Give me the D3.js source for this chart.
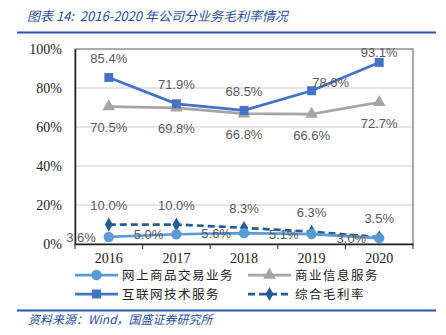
<!DOCTYPE html>
<html lang="zh">
<head>
<meta charset="UTF-8">
<title>2016-2020年公司分业务毛利率情况</title>
<script src="https://d3js.org/d3.v7.min.js"></script>
<style>
  body { margin: 0; background: #fff; }
  svg { display: block; }
</style>
</head>
<body>
<div id="chart"></div>
<script>

// data
const years = ["2016", "2017", "2018", "2019", "2020"];
const seriesNames = ["网上商品交易业务", "商业信息服务", "互联网技术服务", "综合毛利率"];
const onlineTrade = [3.6, 5.0, 5.6, 5.1, 3.0];
const bizInfo = [70.5, 69.8, 66.8, 66.6, 72.7];
const internetTech = [85.4, 71.9, 68.5, 78.6, 93.1];
const overall = [10.0, 10.0, 8.3, 6.3, 3.5];
const yTicks = [0, 20, 40, 60, 80, 100];

const width = 446, height = 335;
const svg = d3.select("#chart").append("svg")
  .attr("width", width).attr("height", height);

const blue = "#1F4E9A";

// header / footer
svg.append("text")
  .attr("x", 27).attr("y", 21)
  .attr("fill", blue)
  .style("white-space", "pre")
  .style("font", "italic 13px 'Noto Sans CJK SC', sans-serif")
  .text("图表 14:  2016-2020 年公司分业务毛利率情况");
svg.append("line").attr("x1", 17).attr("x2", 436).attr("y1", 32.5).attr("y2", 32.5)
  .attr("stroke", "#2357B0").attr("stroke-width", 2);
svg.append("line").attr("x1", 17).attr("x2", 436).attr("y1", 310.5).attr("y2", 310.5)
  .attr("stroke", "#2357B0").attr("stroke-width", 2);
svg.append("text")
  .attr("x", 28).attr("y", 324)
  .attr("fill", blue)
  .style("font", "italic 12px 'Noto Sans CJK SC', sans-serif")
  .text("资料来源：Wind，国盛证券研究所");

// plot area
const plotL = 75, plotR = 413, plotT = 49, plotB = 244;
const x = d3.scaleBand().domain(years).range([plotL, plotR]);
const y = d3.scaleLinear().domain([0, 100]).range([plotB, plotT]);
const cx = d => x(d) + x.bandwidth() / 2;

// gridlines
svg.append("g").selectAll("line")
  .data(yTicks.filter(t => t > 0 && t < 100))
  .enter().append("line")
  .attr("x1", plotL).attr("x2", plotR)
  .attr("y1", d => y(d)).attr("y2", d => y(d))
  .attr("stroke", "#DDDDDD").attr("stroke-width", 1.5);

// frame
svg.append("rect")
  .attr("x", plotL).attr("y", plotT)
  .attr("width", plotR - plotL).attr("height", plotB - plotT)
  .attr("fill", "none").attr("stroke", "#595959").attr("stroke-width", 1);

// y axis
const yAxis = svg.append("g")
  .attr("transform", `translate(${plotL},0)`)
  .call(d3.axisLeft(y).tickValues(yTicks).tickFormat(d => d + "%").tickSize(0).tickPadding(13));
yAxis.select(".domain").attr("stroke", "#222").attr("stroke-width", 1.5);
yAxis.selectAll("text")
  .attr("fill", "#222")
  .style("font", "14px 'Liberation Serif', serif");

// x axis
const xAxis = svg.append("g")
  .attr("transform", `translate(0,${plotB})`)
  .call(d3.axisBottom(x).tickSize(0).tickPadding(9));
xAxis.select(".domain").attr("stroke", "#222").attr("stroke-width", 1.5);
xAxis.selectAll("text")
  .attr("fill", "#222")
  .style("font", "14px 'Liberation Serif', serif");
// tick marks on category boundaries
svg.append("g").selectAll("line")
  .data(d3.range(years.length + 1))
  .enter().append("line")
  .attr("x1", i => plotL + i * x.bandwidth()).attr("x2", i => plotL + i * x.bandwidth())
  .attr("y1", plotB).attr("y2", plotB + 5)
  .attr("stroke", "#222").attr("stroke-width", 1);

// series config
const series = [
  { name: seriesNames[1], values: bizInfo, color: "#A5A5A5", marker: d3.symbolTriangle, size: 70, dash: null, label: "below" },
  { name: seriesNames[2], values: internetTech, color: "#4472C4", marker: d3.symbolSquare, size: 80, dash: null, label: "above" },
  { name: seriesNames[3], values: overall, color: "#255E91", marker: d3.symbolDiamond, size: 55, dash: "7,4", label: "above" },
  { name: seriesNames[0], values: onlineTrade, color: "#5B9BD5", marker: d3.symbolCircle, size: 85, dash: null, label: "left" }
];

const line = d3.line().x(d => cx(d.year)).y(d => y(d.v));

series.forEach(s => {
  const pts = years.map((yr, i) => ({ year: yr, v: s.values[i] }));
  const g = svg.append("g");
  g.append("path")
    .datum(pts)
    .attr("d", line)
    .attr("fill", "none")
    .attr("stroke", s.color)
    .attr("stroke-width", 2.75)
    .attr("stroke-dasharray", s.dash);
  g.selectAll("path.m")
    .data(pts).enter().append("path")
    .attr("class", "m")
    .attr("transform", d => `translate(${cx(d.year)},${y(d.v)})`)
    .attr("d", d3.symbol().type(s.marker).size(s.size))
    .attr("fill", s.color);
});

// data labels
const labelStyle = "13px 'Liberation Sans', Arial, sans-serif";
const tweak = { "互联网技术服务-2019": [19, 11], "互联网技术服务-2020": [0, 9] };
series.forEach(s => {
  s.values.forEach((v, i) => {
    const px = cx(years[i]), py = y(v);
    let tx = px, ty = py, anchor = "middle";
    if (s.label === "above") ty = py - 19;
    else if (s.label === "below") ty = py + 21;
    else { tx = px - 13; anchor = "end"; }
    const t = tweak[s.name + "-" + years[i]];
    if (t) { tx += t[0]; ty += t[1]; }
    svg.append("text")
      .attr("x", tx).attr("y", ty)
      .attr("dy", "0.35em")
      .attr("text-anchor", anchor)
      .attr("fill", "#595959")
      .style("font", labelStyle)
      .text(v.toFixed(1) + "%");
  });
});

// legend
const legendItems = [
  { s: series[3], lx: 75, ly: 275 },
  { s: series[0], lx: 248, ly: 275 },
  { s: series[1], lx: 75, ly: 294 },
  { s: series[2], lx: 248, ly: 294 }
];
const legend = svg.append("g");
legendItems.forEach(it => {
  legend.append("line")
    .attr("x1", it.lx).attr("x2", it.lx + 43)
    .attr("y1", it.ly).attr("y2", it.ly)
    .attr("stroke", it.s.color).attr("stroke-width", 2.75)
    .attr("stroke-dasharray", it.s.dash);
  legend.append("path")
    .attr("transform", `translate(${it.lx + 21.5},${it.ly})`)
    .attr("d", d3.symbol().type(it.s.marker).size(it.s.size))
    .attr("fill", it.s.color);
  legend.append("text")
    .attr("x", it.lx + 47).attr("y", it.ly)
    .attr("dy", "0.36em")
    .attr("fill", "#222")
    .style("font", "12.5px 'Noto Sans CJK SC', sans-serif")
    .style("letter-spacing", "1.5px")
    .text(it.s.name);
});

</script>
</body>
</html>
